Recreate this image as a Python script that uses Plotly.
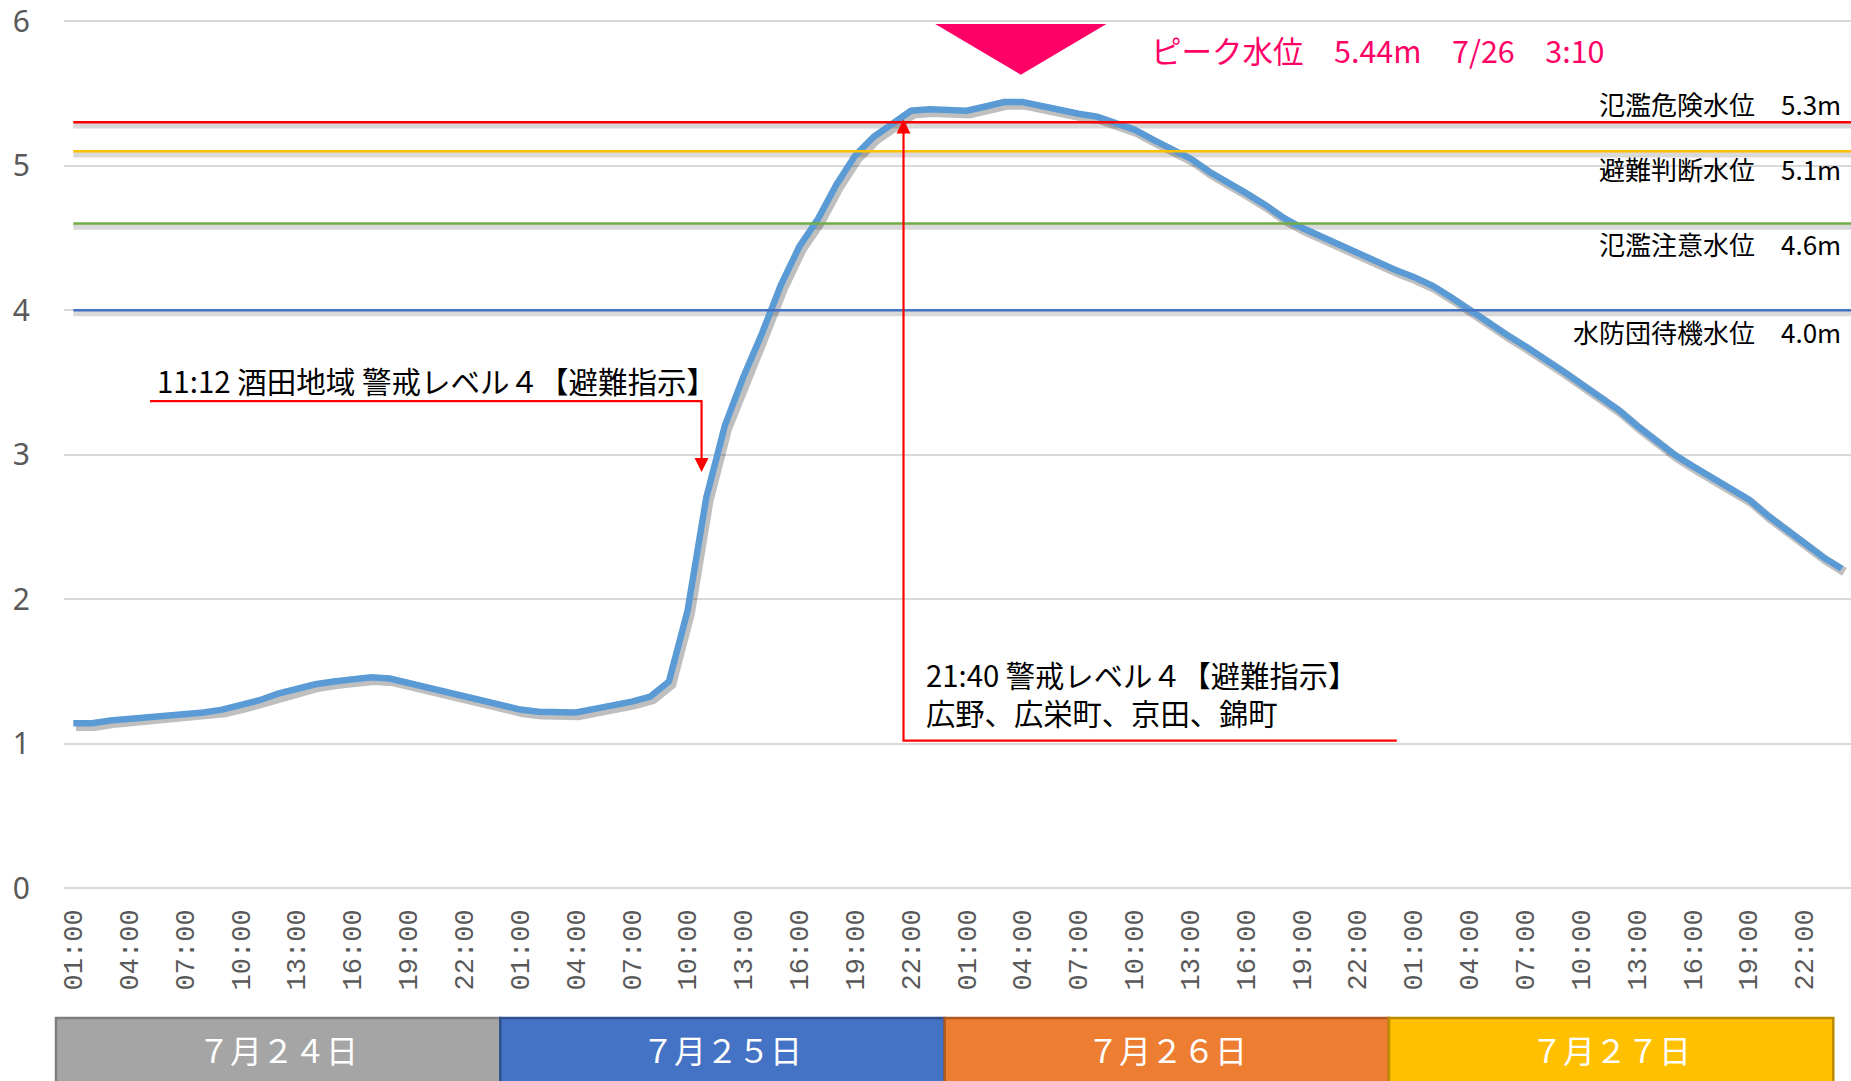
import plotly.graph_objects as go

# ---------------- data ----------------
day_labels = ["７月２４日", "７月２５日", "７月２６日", "７月２７日"]
hour_labels = ["01:00", "04:00", "07:00", "10:00", "13:00", "16:00", "19:00", "22:00"]

# hourly water level (m), 7/24 01:00 ... 7/28 00:00
water_level = [
    1.14, 1.14, 1.16, 1.17, 1.185, 1.195, 1.21, 1.215, 1.235, 1.265, 1.30, 1.345,
    1.38, 1.41, 1.43, 1.445, 1.458, 1.45, 1.42, 1.39, 1.355, 1.32, 1.29, 1.26,
    1.235, 1.22, 1.215, 1.215, 1.24, 1.26, 1.29, 1.325, 1.43, 1.92, 2.70, 3.20,
    3.54, 3.84, 4.17, 4.44, 4.63, 4.87, 5.07, 5.20, 5.29, 5.38, 5.39, 5.38,
    5.38, 5.41, 5.44, 5.44, 5.41, 5.38, 5.36, 5.34, 5.30, 5.25, 5.18, 5.11,
    5.05, 4.96, 4.89, 4.81, 4.73, 4.64, 4.57, 4.51, 4.46, 4.40, 4.34, 4.28,
    4.23, 4.17, 4.09, 4.00, 3.91, 3.83, 3.75, 3.67, 3.58, 3.49, 3.40, 3.31,
    3.20, 3.10, 3.00, 2.92, 2.84, 2.77, 2.69, 2.58, 2.48, 2.39, 2.29, 2.21,
]

threshold_names = ["氾濫危険水位", "避難判断水位", "氾濫注意水位", "水防団待機水位"]
threshold_values = [5.3, 5.1, 4.6, 4.0]
threshold_colors = ["#FF0000", "#FFC000", "#70AD47", "#4472C4"]
threshold_label_shift = [19, -17, -20, -21]

y_ticks = [0, 1, 2, 3, 4, 5, 6]

peak_label = "ピーク水位　5.44m　7/26　3:10"
event1_text = "11:12 酒田地域 警戒レベル４【避難指示】"
event2_text = "21:40 警戒レベル４【避難指示】<br>広野、広栄町、京田、錦町"

day_colors = ["#A5A5A5", "#4472C4", "#ED7D31", "#FFC000"]
day_borders = ["#7F7F7F", "#2F528F", "#AE5A21", "#BC8C00"]

# ---------------- figure ----------------
x = list(range(len(water_level)))
x_max = len(water_level) - 0.5
red = "#FF0000"
pink = "#FF0066"
jp_font = "Noto Sans CJK JP"

def xp(i):
    """index -> paper fraction"""
    return (i + 0.5) / len(water_level)

fig = go.Figure()

# threshold line shadows
for v in threshold_values:
    fig.add_trace(go.Scatter(x=[0, x_max], y=[v - 0.022, v - 0.022], mode="lines",
                             line=dict(color="rgba(0,0,0,0.15)", width=6),
                             hoverinfo="skip"))

# water level shadow + line
fig.add_trace(go.Scatter(x=[xi + 0.15 for xi in x], y=[v - 0.022 for v in water_level],
                         mode="lines", line=dict(color="rgba(0,0,0,0.25)", width=9),
                         hoverinfo="skip"))
fig.add_trace(go.Scatter(x=x, y=water_level, mode="lines",
                         line=dict(color="#5B9BD5", width=6.5), name="水位"))

# threshold lines
for n, v, c in zip(threshold_names, threshold_values, threshold_colors):
    fig.add_trace(go.Scatter(x=[0, x_max], y=[v, v], mode="lines",
                             line=dict(color=c, width=2.5), name=n))

# event 1 leader (11:12)
e1_x0, e1_x1, e1_y, e1_tip = 4.12, 33.75, 3.37, 2.88
fig.add_trace(go.Scatter(x=[e1_x0, e1_x1, e1_x1], y=[e1_y, e1_y, e1_tip + 0.06],
                         mode="lines", line=dict(color=red, width=2.2), hoverinfo="skip"))
fig.add_trace(go.Scatter(x=[e1_x1], y=[e1_tip], mode="markers",
                         marker=dict(symbol="arrow-down", size=14, color=red,
                                     line=dict(width=0)), hoverinfo="skip"))

# event 2 leader (21:40)
e2_x, e2_x1, e2_y, e2_tip = 44.6, 71.1, 1.02, 5.32
fig.add_trace(go.Scatter(x=[e2_x1, e2_x, e2_x], y=[e2_y, e2_y, e2_tip - 0.06],
                         mode="lines", line=dict(color=red, width=2.2), hoverinfo="skip"))
fig.add_trace(go.Scatter(x=[e2_x], y=[e2_tip], mode="markers",
                         marker=dict(symbol="arrow-up", size=14, color=red,
                                     line=dict(width=0)), hoverinfo="skip"))

shapes = []
annotations = []

# peak triangle
pk_c, pk_hw, pk_top, pk_tip = 50.9, 4.6, 5.98, 5.63
shapes.append(dict(type="path", xref="x", yref="y",
                   path=f"M {pk_c - pk_hw},{pk_top} L {pk_c + pk_hw},{pk_top} L {pk_c},{pk_tip} Z",
                   fillcolor=pink, line=dict(width=0), layer="above"))
annotations.append(dict(xref="x", yref="y", x=57.8, y=5.80, xanchor="left", yanchor="middle",
                        text=peak_label, showarrow=False,
                        font=dict(family=jp_font, size=30.5, color=pink)))

# threshold labels
for n, v, s in zip(threshold_names, threshold_values, threshold_label_shift):
    annotations.append(dict(xref="paper", yref="y", x=0.9955, y=v, yshift=s,
                            xanchor="right", yanchor="middle", showarrow=False,
                            text=f"{n}　{v:.1f}m",
                            font=dict(family=jp_font, size=26, color="#000000")))

# event texts
annotations.append(dict(xref="x", yref="y", x=4.4, y=e1_y, yshift=21, xanchor="left",
                        yanchor="middle", showarrow=False, text=event1_text,
                        font=dict(family=jp_font, size=29.5, color="#000000")))
annotations.append(dict(xref="x", yref="y", x=45.7, y=1.35, xanchor="left", yanchor="middle",
                        align="left", showarrow=False, text=event2_text,
                        font=dict(family=jp_font, size=29.3, color="#000000")))

# day boxes
box_y0, box_y1 = -0.235, -0.1488
for d, (lab, fc, bc) in enumerate(zip(day_labels, day_colors, day_borders)):
    i0 = -0.93 + 23.87 * d
    i1 = i0 + 23.87
    shapes.append(dict(type="rect", xref="paper", yref="paper", x0=xp(i0), x1=xp(i1),
                       y0=box_y0, y1=box_y1, fillcolor=fc, line=dict(color=bc, width=2.5),
                       layer="above"))
    annotations.append(dict(xref="paper", yref="paper", x=(xp(i0) + xp(i1)) / 2, y=-0.1845,
                            xanchor="center", yanchor="middle", showarrow=False, text=lab,
                            font=dict(family=jp_font, size=32, color="#FFFFFF")))

tickvals = list(range(0, len(water_level), 3))
ticktext = hour_labels * len(day_labels)

y_top = 6.05
plot_px_per_unit = 144.5
fig.update_layout(
    width=1851, height=1081,
    margin=dict(l=64, r=0, t=21 - (y_top - 6) * plot_px_per_unit, b=193),
    paper_bgcolor="white", plot_bgcolor="white",
    showlegend=False,
    shapes=shapes, annotations=annotations,
    xaxis=dict(range=[-0.5, x_max], tickmode="array", tickvals=tickvals, ticktext=ticktext,
               tickangle=-90, showgrid=False, zeroline=False, showline=False, ticks="",
               ticklabelstandoff=15, automargin=False, ticklabeloverflow="allow",
               tickfont=dict(family="Liberation Mono", size=27, color="#595959")),
    yaxis=dict(range=[0, y_top], tickmode="array", tickvals=y_ticks,
               showgrid=True, gridcolor="#D9D9D9", gridwidth=1.5,
               zeroline=True, zerolinecolor="#D9D9D9", zerolinewidth=1.5, showline=False,
               ticks="", ticklabelstandoff=33, automargin=False, ticklabeloverflow="allow",
               tickfont=dict(family="Noto Sans", size=30, color="#595959")),
)

fig.write_html("out.html", config={"displayModeBar": False},
               post_script="document.body.style.margin='0';")
